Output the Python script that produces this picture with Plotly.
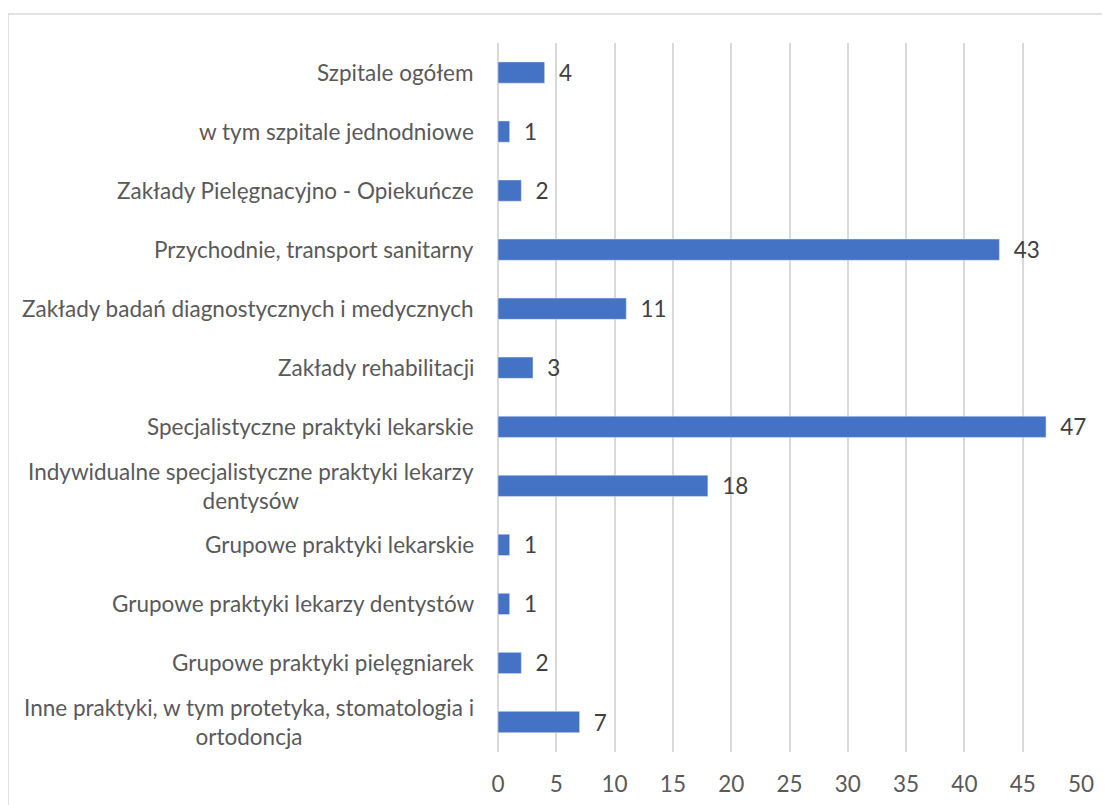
import plotly.graph_objects as go

categories = [
    "Szpitale ogółem",
    "w tym szpitale jednodniowe",
    "Zakłady Pielęgnacyjno - Opiekuńcze",
    "Przychodnie, transport sanitarny",
    "Zakłady badań diagnostycznych i medycznych",
    "Zakłady rehabilitacji",
    "Specjalistyczne praktyki lekarskie",
    "Indywidualne specjalistyczne praktyki lekarzy<br>dentysów",
    "Grupowe praktyki lekarskie",
    "Grupowe praktyki lekarzy dentystów",
    "Grupowe praktyki pielęgniarek",
    "Inne praktyki, w tym protetyka, stomatologia i<br>ortodoncja",
]
values = [4, 1, 2, 43, 11, 3, 47, 18, 1, 1, 2, 7]
x_ticks = [0, 5, 10, 15, 20, 25, 30, 35, 40, 45, 50]

FS = 22.5
fig = go.Figure(go.Bar(
    x=values,
    y=categories,
    orientation="h",
    marker_color="#4472C4",
    text=values,
    texttemplate="\u2002%{x}",
    textposition="outside",
    constraintext="none",
    textfont=dict(size=FS, color="#404040"),
    cliponaxis=False,
))

# plot area in page pixels (page body has an 8px offset)
L, R, T, B = 490, 1073, 35, 744
W, H = R - L, B - T

fig.update_layout(
    width=1110, height=805,
    margin=dict(l=L, r=1110 - R, t=T, b=805 - B),
    paper_bgcolor="white", plot_bgcolor="white",
    font=dict(family="Lato", size=FS, color="#595959"),
    bargap=0.64,
    showlegend=False,
)
fig.update_xaxes(
    range=[0, 50], tickvals=x_ticks, showgrid=True, gridcolor="#d9d9d9",
    gridwidth=1.5, zeroline=True, zerolinecolor="#d9d9d9", zerolinewidth=1.5,
    showline=False, ticks="", ticklabelstandoff=16, automargin=False,
    tickfont=dict(size=FS, color="#595959"),
)
fig.update_yaxes(
    autorange="reversed", showgrid=False, showline=False, ticks="",
    showticklabels=False, automargin=False,
)
# category labels, centred lines like the original
for c in categories:
    fig.add_annotation(
        x=0, xref="paper", y=c, yref="y", text=c, showarrow=False,
        xanchor="right", xshift=-22, align="center",
        font=dict(size=FS, color="#595959"),
    )
# chart outer border
fig.add_shape(
    type="rect", xref="paper", yref="paper",
    x0=(0 - L) / W, x1=(1115 - L) / W,
    y0=(B - 815) / H, y1=(B - 6) / H,
    line=dict(color="#d9d9d9", width=1.5), layer="below",
)

fig.write_html("out.html")
